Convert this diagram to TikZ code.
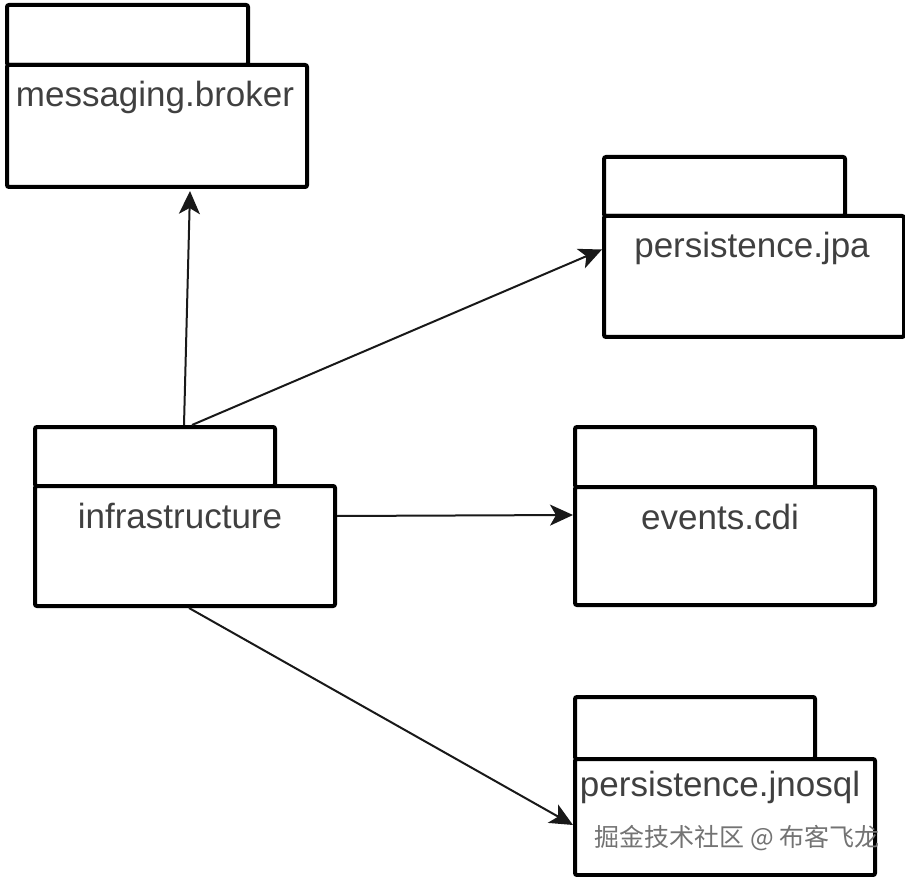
\documentclass[tikz,border=0pt]{standalone}
\usepackage{fontspec}
\setmainfont{Liberation Sans}
\newfontfamily\cjk{Noto Sans CJK SC}
\usetikzlibrary{arrows.meta}
\begin{document}
\begin{tikzpicture}[x=1pt,y=-1pt,
  pkgtab/.style={draw=black, line width=4pt, fill=white, rounded corners=2pt,
    anchor=north west, inner sep=0pt, minimum width=#1},
  pkgbody/.style={draw=black, line width=4pt, fill=white, rounded corners=2pt,
    anchor=north west, inner sep=0pt, minimum width=#1},
  pkglabel/.style={anchor=center, inner sep=0pt, font=\fontsize{35}{40}\selectfont, text=black!75},
  dep/.style={draw=black!90, line width=2pt, -{Stealth[length=23pt,width=21pt,inset=6pt]}}
]
\useasboundingbox (0,0) rectangle (905,877);

% messaging.broker
\node[pkgtab=241pt, minimum height=60pt] (mtab) at (5,3) {};
\node[pkgbody=300pt, minimum height=122pt] (mbody) at (5,63) {};
\node[pkglabel] (mlab) at (155,97) {messaging.broker};

% persistence.jpa
\node[pkgtab=241pt, minimum height=59pt] (jtab) at (602,155) {};
\node[pkgbody=300pt, minimum height=121pt] (jbody) at (602,214) {};
\node[pkglabel] (jlab) at (752,248) {persistence.jpa};

% infrastructure
\node[pkgtab=240pt, minimum height=59pt] (itab) at (33,425) {};
\node[pkgbody=300pt, minimum height=120pt] (ibody) at (33,484) {};
\node[pkglabel] (ilab) at (180,516) {infrastructure};

% events.cdi
\node[pkgtab=240pt, minimum height=60pt] (ctab) at (573,425) {};
\node[pkgbody=300pt, minimum height=118pt] (cbody) at (573,485) {};
\node[pkglabel] (clab) at (720,517) {events.cdi};

% persistence.jnosql
\node[pkgtab=240pt, minimum height=62pt] (ntab) at (573,695) {};
\node[pkgbody=300pt, minimum height=116pt] (nbody) at (573,757) {};
\node[pkglabel] (nlab) at (720,787) {persistence.jnosql};

% dependencies
\draw[dep] ([xshift=29pt]itab.north) -- ([xshift=33pt,yshift=-2pt]mbody.south);
\draw[dep] ([xshift=37pt]itab.north) -- ([yshift=27pt]jbody.west);
\draw[dep] ([yshift=30pt]ibody.east) -- ([yshift=31pt]cbody.west);
\draw[dep] ([xshift=4pt]ibody.south) -- ([yshift=-8pt]nbody.west);

% watermark
\node[inner sep=0pt, font=\cjk\fontsize{25}{29}\selectfont, text=black!55] (wm) at (737,838) {掘金技术社区 @ 布客飞龙};
\end{tikzpicture}
\end{document}
